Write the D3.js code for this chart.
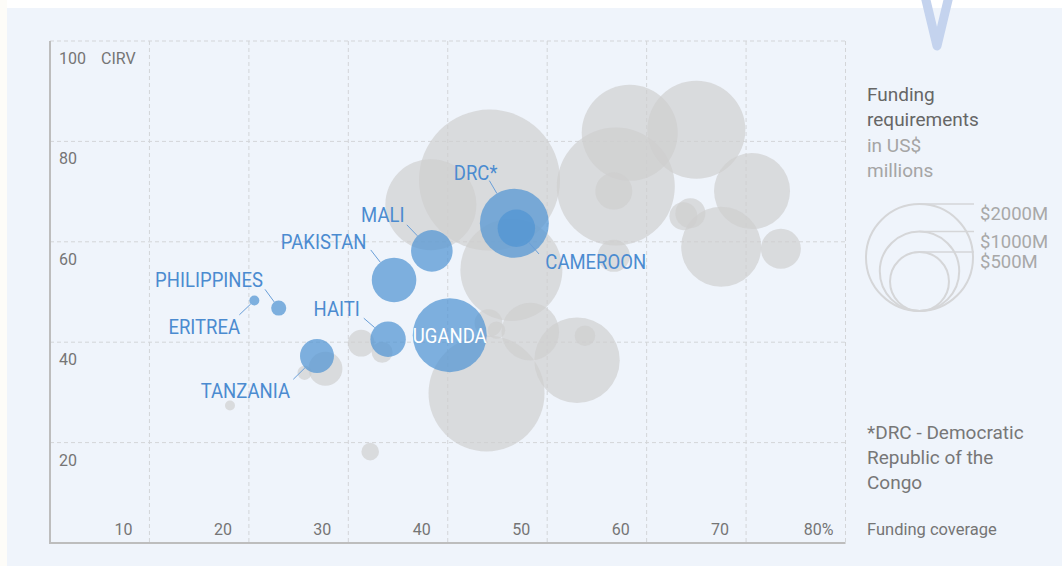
<!DOCTYPE html>
<html>
<head>
<meta charset="utf-8">
<script src="https://cdn.jsdelivr.net/npm/d3@7"></script>
<style>
  body { margin: 0; background: #fff; }
  svg { display: block; font-family: Roboto, "Noto Sans", sans-serif; }
</style>
</head>
<body>
<svg id="chart" width="1062" height="566"></svg>
<script>
// highlighted countries
const names = ["PHILIPPINES", "ERITREA", "TANZANIA", "HAITI", "PAKISTAN", "MALI", "UGANDA", "DRC*", "CAMEROON"];
const coverage = [23.0, 20.55, 26.85, 34.0, 34.6, 38.4, 40.2, 46.7, 46.9];
const cirv = [46.8, 48.3, 37.25, 40.6, 52.4, 58.2, 41.4, 63.7, 62.7];
const funding = [21, 8, 139, 153, 261, 222, 848, 721, 174];

// all other countries (grey)
const otherCoverage = [44.2, 38.3, 46.4, 56.9, 58.3, 65.0, 56.7, 70.6, 67.5, 73.5, 63.7, 64.4, 56.7, 43.9, 53.0, 48.3, 53.8, 44.1, 44.9, 31.3, 33.4, 27.7, 25.6, 18.1, 32.2];
const otherCirv = [72.3, 67.4, 54.4, 71.0, 81.7, 82.3, 70.1, 70.1, 59.0, 58.6, 65.1, 65.7, 57.2, 29.8, 36.4, 42.1, 41.3, 43.8, 42.4, 39.8, 38.0, 34.7, 33.9, 27.4, 18.2];
const otherFunding = [3800, 1372, 1789, 2511, 1554, 1630, 169, 903, 1017, 203, 88, 104, 121, 2413, 1184, 474, 43, 88, 29, 79, 45, 139, 18, 8, 30];

const xTicks = [10, 20, 30, 40, 50, 60, 70, 80];
const yTicks = [20, 40, 60, 80, 100];
const legendValues = [2000, 1000, 500];
const legendLabels = ["$2000M", "$1000M", "$500M"];

// label placement relative to bubble centre (layout only)
const labelLayout = {
  "PHILIPPINES": { dx: -15.7, dy: -21.5, anchor: "end", lx: -13.7, ly: -18.7 },
  "ERITREA":     { dx: -14.3, dy: 33.3,  anchor: "end", lx: -15,   ly: 14.3 },
  "TANZANIA":    { dx: -27,   dy: 42.3,  anchor: "end", lx: -23.7, ly: 23.3 },
  "HAITI":       { dx: -28.3, dy: -23.6, anchor: "end", lx: -24.3, ly: -21 },
  "PAKISTAN":    { dx: -27.6, dy: -31,   anchor: "end", lx: -23.3, ly: -30 },
  "MALI":        { dx: -27.4, dy: -29.3, anchor: "end", lx: -25,   ly: -26 },
  "UGANDA":      { dx: 0,     dy: 7.5,   anchor: "middle", inside: true },
  "DRC*":        { dx: -17,   dy: -43.3, anchor: "end", lx: -25,   ly: -42.6 },
  "CAMEROON":    { dx: 29,    dy: 41,    anchor: "start", lx: 22.6, ly: 25.7 }
};

const svg = d3.select("#chart");

const x = d3.scaleLinear().domain([0, 80]).range([50, 845.5]);
const y = d3.scaleLinear().domain([0, 100]).range([543, 41]);
const r = d3.scalePow().exponent(0.43).domain([0, 2000]).range([0, 53.5]);

// background
svg.append("rect").attr("x", 0).attr("y", 0).attr("width", 7).attr("height", 566).attr("fill", "#fdfcf8");
svg.append("rect").attr("x", 7).attr("y", 8).attr("width", 1055).attr("height", 558).attr("fill", "#eff4fb");

// grid
svg.append("g").selectAll("line")
  .data(xTicks)
  .join("line")
  .attr("x1", d => x(d)).attr("x2", d => x(d))
  .attr("y1", y(100)).attr("y2", y(0))
  .attr("stroke", "#d3d5d8").attr("stroke-dasharray", "4,3");

svg.append("g").selectAll("line")
  .data(yTicks)
  .join("line")
  .attr("x1", x(0)).attr("x2", x(80))
  .attr("y1", d => y(d)).attr("y2", d => y(d))
  .attr("stroke", "#d3d5d8").attr("stroke-dasharray", "4,3");

// axis lines
svg.append("line").attr("x1", x(0)).attr("x2", x(0)).attr("y1", y(100)).attr("y2", y(0) + 1)
  .attr("stroke", "#bdbdbd").attr("stroke-width", 2);
svg.append("line").attr("x1", x(0)).attr("x2", x(80)).attr("y1", y(0)).attr("y2", y(0))
  .attr("stroke", "#bdbdbd").attr("stroke-width", 2);

// tick labels
svg.append("g").selectAll("text")
  .data(yTicks)
  .join("text")
  .attr("x", 59).attr("y", d => y(d) + 23)
  .attr("font-size", 16).attr("fill", "#757575")
  .text(d => d);
svg.append("text").attr("x", 101).attr("y", y(100) + 23)
  .attr("font-size", 16).attr("fill", "#757575").text("CIRV");

svg.append("g").selectAll("text")
  .data(xTicks)
  .join("text")
  .attr("x", d => x(d) - (d === 80 ? 12 : 17)).attr("y", 535)
  .attr("text-anchor", "end")
  .attr("font-size", 16).attr("fill", "#757575")
  .text(d => d === 80 ? d + "%" : d);

svg.append("text").attr("x", 867).attr("y", 535)
  .attr("font-size", 16.5).attr("fill", "#757575").text("Funding coverage");

// grey bubbles
const others = otherCoverage.map((c, i) => ({ c, v: otherCirv[i], f: otherFunding[i] }));
svg.append("g").selectAll("circle")
  .data(others)
  .join("circle")
  .attr("cx", d => x(d.c)).attr("cy", d => y(d.v)).attr("r", d => r(d.f))
  .attr("fill", "#cecece").attr("fill-opacity", 0.68);

// highlighted bubbles
const hl = names.map((n, i) => ({ n, c: coverage[i], v: cirv[i], f: funding[i] }));
svg.append("g").selectAll("circle")
  .data(hl)
  .join("circle")
  .attr("cx", d => x(d.c)).attr("cy", d => y(d.v)).attr("r", d => r(d.f))
  .attr("fill", "#5094d2").attr("fill-opacity", 0.72);

// leader lines
svg.append("g").selectAll("line")
  .data(hl.filter(d => !labelLayout[d.n].inside))
  .join("line")
  .attr("x1", d => x(d.c) + labelLayout[d.n].lx)
  .attr("y1", d => y(d.v) + labelLayout[d.n].ly)
  .attr("x2", d => {
    const L = labelLayout[d.n], len = Math.hypot(L.lx, L.ly);
    return x(d.c) + L.lx / len * r(d.f);
  })
  .attr("y2", d => {
    const L = labelLayout[d.n], len = Math.hypot(L.lx, L.ly);
    return y(d.v) + L.ly / len * r(d.f);
  })
  .attr("stroke", "#6a9fd8").attr("stroke-width", 1);

// country labels, slightly condensed like the original face
svg.append("g").selectAll("text")
  .data(hl)
  .join("text")
  .attr("transform", d => `translate(${x(d.c) + labelLayout[d.n].dx},${y(d.v) + labelLayout[d.n].dy}) scale(0.925,1)`)
  .attr("text-anchor", d => labelLayout[d.n].anchor)
  .attr("font-size", 20)
  .attr("fill", d => labelLayout[d.n].inside ? "#fff" : "#4b8bd0")
  .text(d => d.n);

// legend
const legend = svg.append("g");
legend.selectAll("text.title")
  .data(["Funding", "requirements"])
  .join("text")
  .attr("x", 867).attr("y", (d, i) => 101 + i * 25)
  .attr("font-size", 19).attr("fill", "#666").text(d => d);
legend.selectAll("text.sub")
  .data(["in US$", "millions"])
  .join("text")
  .attr("x", 867).attr("y", (d, i) => 152 + i * 25)
  .attr("font-size", 19).attr("fill", "#a5a5a5").text(d => d);

const lcx = 919.5, lbottom = 311;
legend.selectAll("circle")
  .data(legendValues)
  .join("circle")
  .attr("cx", lcx).attr("cy", d => lbottom - r(d)).attr("r", d => r(d))
  .attr("fill", "none").attr("stroke", "#d5d6d8").attr("stroke-width", 2);
legend.selectAll("line")
  .data(legendValues)
  .join("line")
  .attr("x1", lcx).attr("x2", 974)
  .attr("y1", d => lbottom - 2 * r(d)).attr("y2", d => lbottom - 2 * r(d))
  .attr("stroke", "#d5d6d8").attr("stroke-width", 1.5);
legend.selectAll("text.val")
  .data(legendValues)
  .join("text")
  .attr("x", 980).attr("y", d => lbottom - 2 * r(d) + 16)
  .attr("font-size", 18.5).attr("fill", "#a8a8a8")
  .text((d, i) => legendLabels[i]);

// footnote
svg.append("g").selectAll("text")
  .data(["*DRC - Democratic", "Republic of the", "Congo"])
  .join("text")
  .attr("x", 867).attr("y", (d, i) => 438.5 + i * 25)
  .attr("font-size", 19).attr("fill", "#777").text(d => d);

// decorative V at the top
svg.append("path")
  .attr("d", "M925,-4 L937,46 L949,-4")
  .attr("fill", "none").attr("stroke", "#c4d3ee").attr("stroke-width", 9)
  .attr("stroke-linecap", "round").attr("stroke-linejoin", "round");
</script>
</body>
</html>
